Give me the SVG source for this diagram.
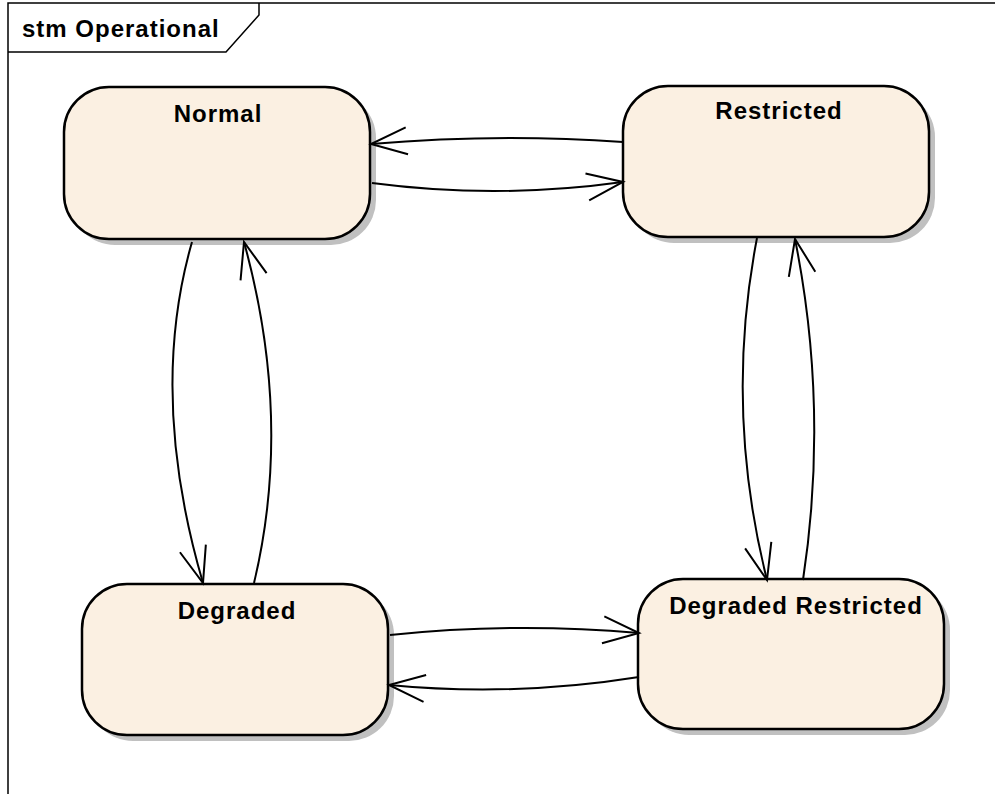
<svg xmlns="http://www.w3.org/2000/svg" width="995" height="794" viewBox="0 0 995 794">
<defs>
<style>
.frame{fill:none;stroke:#000;stroke-width:1.5}
.shadow{fill:#c0c0c0;stroke:none}
.state{fill:#fbf0e2;stroke:#000;stroke-width:2.5}
.lbl{font-family:"Liberation Sans",Arial,sans-serif;font-weight:bold;font-size:24px;letter-spacing:1px;fill:#000}
.conn{fill:none;stroke:#000;stroke-width:2;marker-end:url(#arr)}
</style>
<marker id="arr" markerUnits="userSpaceOnUse" markerWidth="42" markerHeight="34" viewBox="-39 -17 42 34" refX="0" refY="0" orient="auto" overflow="visible">
<path d="M-36,-13.5 L0,0 L-36,13.5" fill="none" stroke="#000" stroke-width="2"/>
</marker>
</defs>
<rect width="995" height="794" fill="#fff"/>
<g id="frame">
<path class="frame" d="M8,794 V3 H995"/>
<path class="frame" d="M8,52 H226 L259,15 V3"/>
<text class="lbl" x="22" y="37">stm Operational</text>
</g>
<g id="normal">
<rect class="shadow" x="70" y="93" width="306" height="152" rx="45"/>
<rect class="state" x="64" y="87" width="306" height="152" rx="45"/>
<text class="lbl" x="218" y="122" text-anchor="middle">Normal</text>
</g>
<g id="restricted">
<rect class="shadow" x="629" y="92" width="306" height="151" rx="45"/>
<rect class="state" x="623" y="86" width="306" height="151" rx="45"/>
<text class="lbl" x="779" y="119" text-anchor="middle">Restricted</text>
</g>
<g id="degraded">
<rect class="shadow" x="88" y="590" width="306" height="151" rx="45"/>
<rect class="state" x="82" y="584" width="306" height="151" rx="45"/>
<text class="lbl" x="237" y="619" text-anchor="middle">Degraded</text>
</g>
<g id="degraded-restricted">
<rect class="shadow" x="644" y="585" width="306" height="150" rx="45"/>
<rect class="state" x="638" y="579" width="306" height="150" rx="45"/>
<text class="lbl" x="796" y="614" text-anchor="middle">Degraded Restricted</text>
</g>
<g id="connectors">
<path class="conn" d="M372,183 Q497,199.5 623,182"/>
<path class="conn" d="M623,142 Q497,133 371,144"/>
<path class="conn" d="M192,242 Q148,395 203,583"/>
<path class="conn" d="M254,583 Q293,420 244,242"/>
<path class="conn" d="M757,238 Q724,409 767,580"/>
<path class="conn" d="M803,580 Q829,409 795,239"/>
<path class="conn" d="M390,635 Q514,622 639,633"/>
<path class="conn" d="M639,677 Q514,697 389,685"/>
</g>
</svg>
